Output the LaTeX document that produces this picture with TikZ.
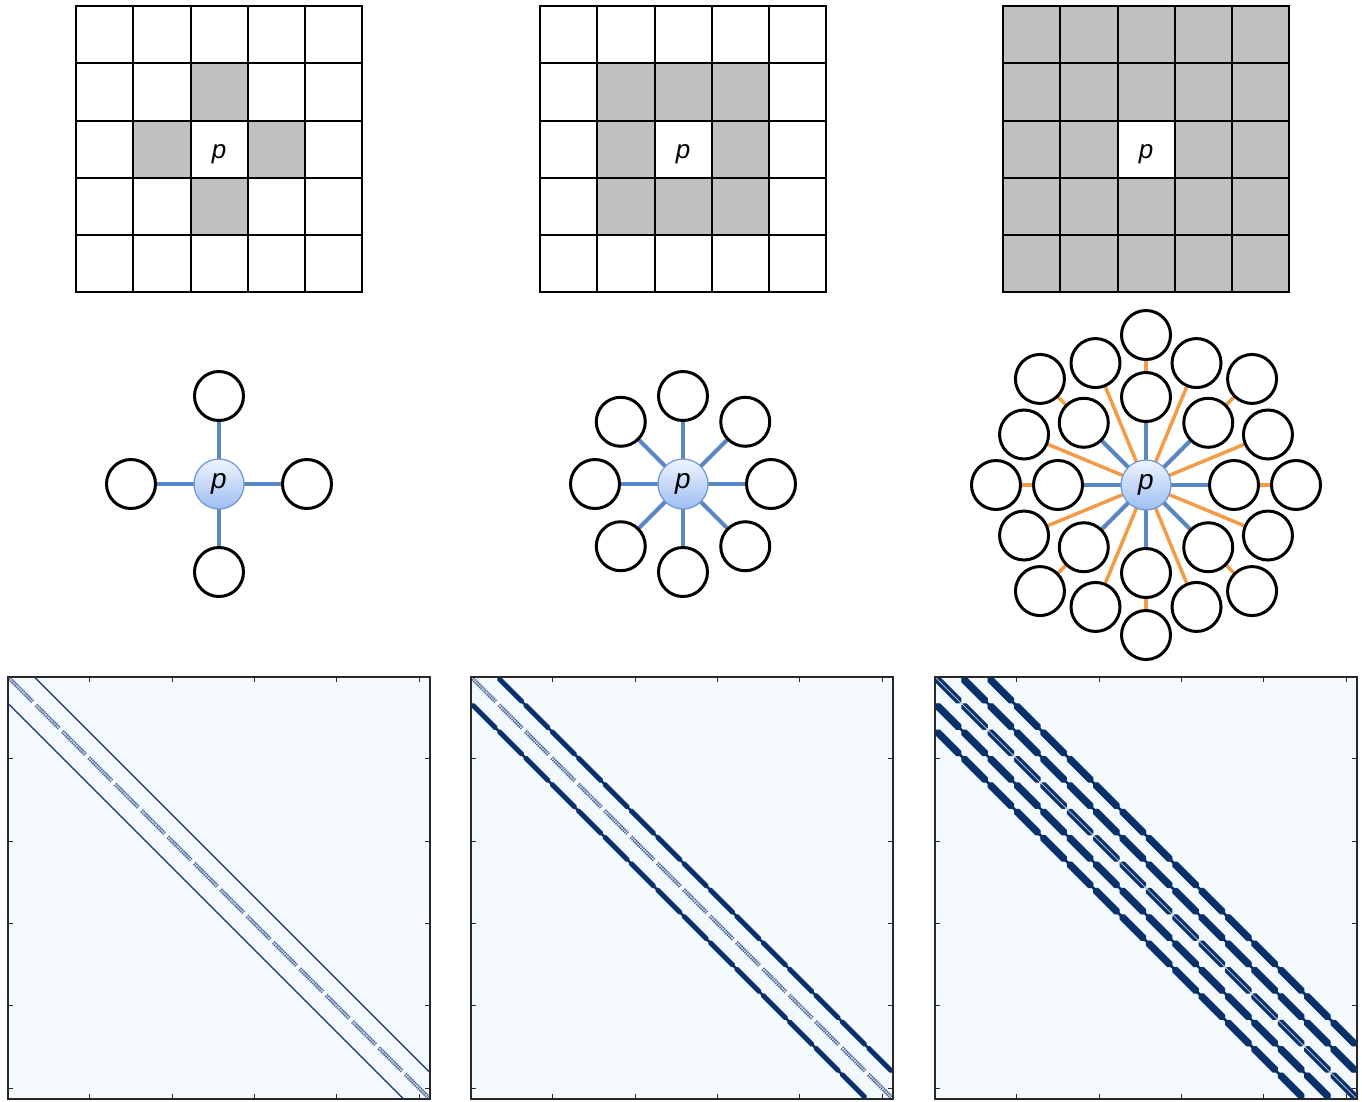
\documentclass[tikz,border=0pt]{standalone}
\usepackage{fontspec}
\newfontfamily\pfont{Liberation Sans}
\usetikzlibrary{backgrounds,calc}
\pgfdeclarelayer{paper}
\pgfsetlayers{paper,background,main}
\definecolor{cellgray}{RGB}{192,192,192}
\definecolor{edgeblue}{RGB}{88,135,196}
\definecolor{edgeorange}{RGB}{244,155,72}
\definecolor{balltop}{RGB}{238,244,255}
\definecolor{ballbot}{RGB}{158,190,242}
\definecolor{ballrim}{RGB}{110,150,210}
\definecolor{navy}{RGB}{8,48,107}
\definecolor{panelbg}{RGB}{244,249,254}
\definecolor{bandgray}{RGB}{72,100,150}
\definecolor{bandlight}{RGB}{165,185,212}
\definecolor{thinblue}{RGB}{40,70,125}
\definecolor{framec}{RGB}{40,40,40}
\tikzset{
  gridline/.style={line width=2pt,black,line cap=rect},
  nbr/.style={circle,draw=black,line width=3pt,fill=white,minimum size=49pt,inner sep=0pt},
  ctr/.style={circle,draw=ballrim,line width=1.2pt,top color=balltop,bottom color=ballbot,
    minimum size=50pt,inner sep=0pt,font=\pfont\itshape\fontsize{28}{28}\selectfont},
  plabel/.style={inner sep=0pt,font=\pfont\itshape\fontsize{26}{26}\selectfont},
  bedge/.style={edgeblue,line width=4pt},
  oedge/.style={edgeorange,line width=3.5pt},
  band/.style={bandgray,line width=1.7pt,dash pattern=on 1.3pt off 0.8pt},
  thinline/.style={thinblue,line width=1.5pt,line cap=round},
  navyline/.style={navy,line width=2.6pt,line cap=round},
  navyband/.style={navy,line width=2.6pt,line cap=round},
  bandcore/.style={bandlight,line width=1pt},
  frame/.style={framec,line width=1.3pt},
  tick/.style={framec,line width=0.9pt}
}
\def\cs{57.25}
\def\ms{1.6484375}
% grid drawing
\newcommand\gridlines[1]{%
  \foreach \k in {0,...,5}{%
    \draw[gridline] ({#1+\k*\cs},6) -- ({#1+\k*\cs},{6+5*\cs});
    \draw[gridline] (#1,{6+\k*\cs}) -- ({#1+5*\cs},{6+\k*\cs});
  }}
% one diagonal of the sparsity pattern: #1 x0, #2 dr, #3 dc, #4 style
\newcommand\mdiag[4]{%
  \ifnum#3=0
    \pgfmathtruncatemacro\moff{16*(#2)}%
    \pgfmathtruncatemacro\ia{max(1,1-\moff)}%
    \pgfmathtruncatemacro\ib{min(256,256-\moff)}%
    \draw[#4] ({#1+(\ia+\moff-0.5)*\ms},{677+(\ia-0.5)*\ms}) -- ({#1+(\ib+\moff-0.5)*\ms},{677+(\ib-0.5)*\ms});
  \else
  \foreach \r in {1,...,16}{%
    \pgfmathtruncatemacro\rr{\r+(#2)}%
    \ifnum\rr>0 \ifnum\rr<17
      \pgfmathtruncatemacro\cmin{max(1,1-(#3))}%
      \pgfmathtruncatemacro\cmax{min(16,16-(#3))}%
      \pgfmathtruncatemacro\ia{(\r-1)*16+\cmin}%
      \pgfmathtruncatemacro\ib{(\r-1)*16+\cmax}%
      \pgfmathtruncatemacro\moff{16*(#2)+(#3)}%
      \draw[#4] ({#1+(\ia+\moff-0.5)*\ms},{677+(\ia-0.5)*\ms}) -- ({#1+(\ib+\moff-0.5)*\ms},{677+(\ib-0.5)*\ms});
    \fi\fi}%
  \fi}
\newcommand\panelbg[1]{\fill[panelbg] (#1,677) rectangle ++(422,422);}
\newcommand\panelframe[1]{%
  \draw[frame] (#1,677) rectangle ++(422,422);
  \foreach \v in {50,100,150,200,250}{%
    \pgfmathsetmacro\t{(\v-0.5)*\ms}%
    \draw[tick] ({#1+\t},677) -- ++(0,5);
    \draw[tick] ({#1+\t},1099) -- ++(0,-5);
    \draw[tick] (#1,{677+\t}) -- ++(5,0);
    \draw[tick] ({#1+422},{677+\t}) -- ++(-5,0);
  }}
\begin{document}
\begin{tikzpicture}[x=1pt,y=-1pt]
\useasboundingbox (0,0) rectangle (1362,1101);
\begin{pgfonlayer}{paper}
\fill[white] (0,0) rectangle (1362,1101);
\end{pgfonlayer}

% ---------- grids ----------
\foreach \c/\r in {2/1,1/2,3/2,2/3}
  \fill[cellgray] ({76+\c*\cs},{6+\r*\cs}) rectangle ++(\cs,\cs);
\gridlines{76}
\node[plabel] (g1p) at ({76+2.5*\cs},{6+2.5*\cs+5}) {p};

\foreach \c/\r in {1/1,2/1,3/1,1/2,3/2,1/3,2/3,3/3}
  \fill[cellgray] ({540+\c*\cs},{6+\r*\cs}) rectangle ++(\cs,\cs);
\gridlines{540}
\node[plabel] (g2p) at ({540+2.5*\cs},{6+2.5*\cs+5}) {p};

\fill[cellgray] (1003,6) rectangle ++({5*\cs},{5*\cs});
\fill[white] ({1003+2*\cs},{6+2*\cs}) rectangle ++(\cs,\cs);
\gridlines{1003}
\node[plabel] (g3p) at ({1003+2.5*\cs},{6+2.5*\cs+5}) {p};

% ---------- graphs ----------
\node[ctr] (p1) at (219,484) {p};
\foreach \a [count=\i] in {0,90,180,270}
  \node[nbr] (a\i) at ($(219,484)+(\a:88)$) {};

\node[ctr] (p2) at (683,484) {p};
\foreach \a [count=\i] in {0,45,...,315}
  \node[nbr] (b\i) at ($(683,484)+(\a:88)$) {};

\node[ctr] (p3) at (1146,485) {p};
\foreach \a [count=\i] in {0,45,...,315}
  \node[nbr] (c\i) at ($(1146,485)+(\a:88)$) {};
\foreach \k in {0,...,15}{%
  \pgfmathsetmacro\rad{mod(\k,2)==0 ? 150 : 132}%
  \pgfmathtruncatemacro\kk{\k+1}%
  \node[nbr] (d\kk) at ($(1146,485)+({\k*22.5}:\rad)$) {};
}

\begin{scope}[on background layer]
  \foreach \i in {1,...,4} \draw[bedge] (p1.center) -- (a\i);
  \foreach \i in {1,...,8} \draw[bedge] (p2.center) -- (b\i);
  \foreach \i in {1,...,16} \draw[oedge] (p3.center) -- (d\i);
  \foreach \i in {1,...,8} \draw[bedge] (p3.center) -- (c\i);
\end{scope}

% ---------- sparsity patterns ----------
\panelbg{8}
\panelbg{471}
\panelbg{935}
\begin{scope}
  \clip (8,677) rectangle ++(422,422);
  \mdiag{8}{0}{1}{band}
  \mdiag{8}{0}{-1}{band}
  \mdiag{8}{1}{0}{thinline}
  \mdiag{8}{-1}{0}{thinline}
\end{scope}
\begin{scope}
  \clip (471,677) rectangle ++(422,422);
  \mdiag{471}{0}{1}{band}
  \mdiag{471}{0}{-1}{band}
  \foreach \dr in {-1,1}{\foreach \dc in {-1,0,1}{\mdiag{471}{\dr}{\dc}{navyline}}}
\end{scope}
\begin{scope}
  \clip (935,677) rectangle ++(422,422);
  \foreach \dc in {-2,-1,1,2}{\mdiag{935}{0}{\dc}{navyband}}
  \mdiag{935}{0}{0}{bandcore}
  \foreach \dr in {-2,-1,1,2}{\foreach \dc in {-2,...,2}{\mdiag{935}{\dr}{\dc}{navyline}}}
\end{scope}
\panelframe{8}
\panelframe{471}
\panelframe{935}
\end{tikzpicture}
\end{document}
